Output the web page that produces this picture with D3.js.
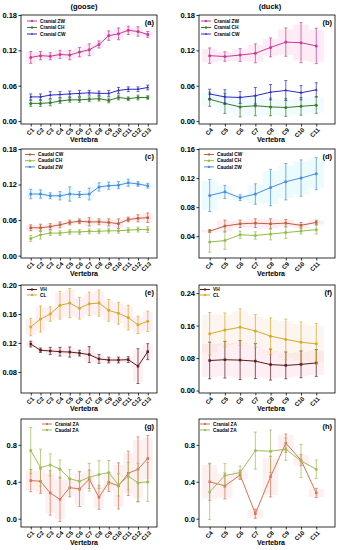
<!DOCTYPE html>
<html><head><meta charset="utf-8">
<script src="https://cdn.jsdelivr.net/npm/d3@7"></script>
<style>body{margin:0;background:#fff;} svg{display:block;font-family:"Liberation Sans",Arial,sans-serif;}</style>
</head><body><svg id="c" width="337" height="550"></svg>
<script>
// ---------- categories & ticks ----------
const gooseCats = ["C1","C2","C3","C4","C5","C6","C7","C8","C9","C10","C11","C12","C13"];
const duckCats = ["C4","C5","C6","C7","C8","C9","C10","C11"];
const ticksWidth = [0, 0.06, 0.12, 0.18];
const ticksD = [0.04, 0.08, 0.12, 0.16];
const ticksE = [0.08, 0.12, 0.16, 0.20];
const ticksF = [0, 0.08, 0.16, 0.24];
const ticksZA = [0, 0.4, 0.8];

// ---------- (a) goose cranial ----------
const aCranialZW = [0.108,0.111,0.110,0.113,0.112,0.117,0.121,0.130,0.145,0.148,0.154,0.152,0.147];
const aCranialZWErr = [0.010,0.007,0.006,0.007,0.008,0.008,0.010,0.006,0.008,0.010,0.007,0.008,0.005];
const aCranialCH = [0.030,0.030,0.031,0.034,0.036,0.036,0.037,0.038,0.035,0.040,0.038,0.040,0.040];
const aCranialCHErr = [0.005,0.005,0.005,0.004,0.004,0.004,0.004,0.004,0.004,0.004,0.003,0.004,0.003];
const aCranialCW = [0.041,0.041,0.044,0.045,0.046,0.047,0.048,0.047,0.047,0.052,0.054,0.054,0.057];
const aCranialCWErr = [0.005,0.005,0.006,0.005,0.005,0.005,0.004,0.004,0.005,0.005,0.004,0.004,0.004];

// ---------- (b) duck cranial ----------
const bCranialZW = [0.111,0.1095,0.112,0.115,0.125,0.134,0.133,0.1275];
const bCranialZWErr = [0.013,0.008,0.011,0.016,0.016,0.024,0.034,0.030];
const bCranialCH = [0.037,0.030,0.024,0.026,0.024,0.023,0.025,0.027];
const bCranialCHErr = [0.012,0.017,0.017,0.017,0.015,0.015,0.015,0.014];
const bCranialCW = [0.046,0.041,0.040,0.043,0.049,0.052,0.048,0.053];
const bCranialCWErr = [0.008,0.012,0.010,0.014,0.013,0.017,0.012,0.012];

// ---------- (c) goose caudal ----------
const cCaudalCW = [0.047,0.047,0.049,0.052,0.056,0.058,0.057,0.057,0.056,0.054,0.061,0.063,0.064];
const cCaudalCWErr = [0.005,0.006,0.005,0.005,0.004,0.004,0.007,0.005,0.006,0.008,0.004,0.006,0.008];
const cCaudalCH = [0.029,0.035,0.038,0.038,0.040,0.040,0.041,0.041,0.042,0.042,0.043,0.044,0.044];
const cCaudalCHErr = [0.005,0.007,0.004,0.004,0.004,0.004,0.004,0.004,0.004,0.004,0.004,0.004,0.005];
const cCaudalZW = [0.104,0.104,0.101,0.101,0.104,0.103,0.104,0.116,0.118,0.119,0.123,0.121,0.118];
const cCaudalZWErr = [0.008,0.007,0.005,0.007,0.012,0.005,0.010,0.007,0.006,0.006,0.006,0.004,0.004];

// ---------- (d) duck caudal ----------
const dCaudalCW = [0.047,0.054,0.057,0.058,0.057,0.058,0.055,0.059];
const dCaudalCWErr = [0.002,0.008,0.005,0.006,0.007,0.005,0.004,0.003];
const dCaudalCH = [0.032,0.034,0.042,0.041,0.043,0.045,0.047,0.049];
const dCaudalCHErr = [0.014,0.012,0.005,0.005,0.008,0.008,0.004,0.006];
const dCaudalZW = [0.096,0.101,0.093,0.098,0.107,0.115,0.120,0.126];
const dCaudalZWErr = [0.022,0.009,0.004,0.014,0.025,0.025,0.025,0.022];

// ---------- (e) goose VH / CL ----------
const eVH = [0.1185,0.110,0.109,0.108,0.1075,0.106,0.104,0.098,0.0965,0.0965,0.097,0.088,0.108];
const eVHErr = [0.004,0.003,0.005,0.006,0.007,0.004,0.011,0.006,0.004,0.004,0.004,0.024,0.011];
const eCL = [0.142,0.153,0.160,0.172,0.175,0.168,0.174,0.175,0.165,0.161,0.155,0.145,0.150];
const eCLErr = [0.012,0.018,0.010,0.019,0.020,0.015,0.016,0.018,0.015,0.015,0.017,0.012,0.014];

// ---------- (f) duck VH / CL ----------
const fVH = [0.074,0.076,0.075,0.0725,0.064,0.062,0.0645,0.068];
const fVHErr = [0.045,0.045,0.048,0.043,0.038,0.033,0.033,0.033];
const fCL = [0.140,0.149,0.156,0.147,0.134,0.126,0.119,0.115];
const fCLErr = [0.052,0.042,0.045,0.040,0.045,0.050,0.050,0.050];

// ---------- (g) goose ZA ----------
const gCranialZA = [0.413,0.405,0.279,0.21,0.337,0.322,0.427,0.232,0.395,0.355,0.492,0.536,0.652];
const gCranialZAErr = [0.12,0.13,0.24,0.24,0.10,0.19,0.10,0.13,0.10,0.25,0.24,0.35,0.25];
const gCaudalZA = [0.738,0.554,0.583,0.536,0.434,0.405,0.449,0.478,0.50,0.366,0.46,0.39,0.398];
const gCaudalZAErr = [0.25,0.20,0.12,0.10,0.10,0.10,0.15,0.15,0.13,0.12,0.15,0.21,0.21];

// ---------- (h) duck ZA ----------
const hCranialZA = [0.40,0.355,0.474,0.054,0.456,0.818,0.634,0.279];
const hCranialZAErr = [0.20,0.14,0.05,0.05,0.22,0.10,0.06,0.05];
const hCaudalZA = [0.29,0.467,0.50,0.738,0.731,0.753,0.626,0.536];
const hCaudalZAErr = [0.30,0.13,0.07,0.20,0.23,0.12,0.18,0.10];

// ---------- colours ----------
const colZW = "#c83c96", colCH = "#3c7a28", colCW = "#2a2ac8";
const colCCW = "#c0603c", colCCH = "#94bc48", colCZW = "#4c8ce0";
const colVH = "#5a1e1e", colCL = "#d8aa28";
const colCrZA = "#dc7050", colCaZA = "#a0bc5c";

const panels = [
 {label:"(a)", col:0, row:0, cats:gooseCats, yDomain:[-0.005,0.18], ticks:ticksWidth, fmt:".2f", lx:6, ly:6, lsp:6.5,
  series:[{name:"Cranial ZW", v:aCranialZW, e:aCranialZWErr, c:colZW, band:"#f6b4dc", shape:"circle"},
          {name:"Cranial CH", v:aCranialCH, e:aCranialCHErr, c:colCH, band:"#c4f2f8", shape:"circle"},
          {name:"Cranial CW", v:aCranialCW, e:aCranialCWErr, c:colCW, band:null, shape:"triangle"}]},
 {label:"(b)", col:1, row:0, cats:duckCats, yDomain:[-0.005,0.18], ticks:ticksWidth, fmt:".2f", lx:2, ly:6, lsp:6.5,
  series:[{name:"Cranial ZW", v:bCranialZW, e:bCranialZWErr, c:colZW, band:"#f6b4dc", shape:"circle"},
          {name:"Cranial CH", v:bCranialCH, e:bCranialCHErr, c:colCH, band:"#c4f2f8", shape:"circle"},
          {name:"Cranial CW", v:bCranialCW, e:bCranialCWErr, c:colCW, band:null, shape:"triangle"}]},
 {label:"(c)", col:0, row:1, cats:gooseCats, yDomain:[-0.004,0.18], ticks:ticksWidth, fmt:".2f", lx:4, ly:5.5, lsp:6.2,
  series:[{name:"Caudal CW", v:cCaudalCW, e:cCaudalCWErr, c:colCCW, band:"#f6b4c8", shape:"square"},
          {name:"Caudal CH", v:cCaudalCH, e:cCaudalCHErr, c:colCCH, band:null, shape:"circle"},
          {name:"Caudal ZW", v:cCaudalZW, e:cCaudalZWErr, c:colCZW, band:"#b4eef8", shape:"circle"}]},
 {label:"(d)", col:1, row:1, cats:duckCats, yDomain:[0.01,0.16], ticks:ticksD, fmt:".2f", lx:5, ly:5.5, lsp:6.2,
  series:[{name:"Caudal CW", v:dCaudalCW, e:dCaudalCWErr, c:colCCW, band:"#f6b4c8", shape:"square"},
          {name:"Caudal CH", v:dCaudalCH, e:dCaudalCHErr, c:colCCH, band:null, shape:"circle"},
          {name:"Caudal ZW", v:dCaudalZW, e:dCaudalZWErr, c:colCZW, band:"#b4eef8", shape:"circle"}]},
 {label:"(e)", col:0, row:2, cats:gooseCats, yDomain:[0.051,0.20], ticks:ticksE, fmt:".2f", lx:6, ly:4.5, lsp:5.5,
  series:[{name:"VH", v:eVH, e:eVHErr, c:colVH, band:"#f6c0d0", shape:"square"},
          {name:"CL", v:eCL, e:eCLErr, c:colCL, band:"#f6c0d0", shape:"circle"}]},
 {label:"(f)", col:1, row:2, cats:duckCats, yDomain:[-0.006,0.26], ticks:ticksF, fmt:".2f", lx:1, ly:4.5, lsp:5.5,
  series:[{name:"VH", v:fVH, e:fVHErr, c:colVH, band:"#f6c0d0", shape:"square"},
          {name:"CL", v:fCL, e:fCLErr, c:colCL, band:"#f6d8c0", shape:"circle"}]},
 {label:"(g)", col:0, row:3, cats:gooseCats, yDomain:[-0.09,1.08], ticks:ticksZA, fmt:".1f", lx:21, ly:5, lsp:6,
  series:[{name:"Cranial ZA", v:gCranialZA, e:gCranialZAErr, c:colCrZA, band:"#f8c4c4", shape:"square"},
          {name:"Caudal ZA", v:gCaudalZA, e:gCaudalZAErr, c:colCaZA, band:null, shape:"circle"}]},
 {label:"(h)", col:1, row:3, cats:duckCats, yDomain:[-0.09,1.08], ticks:ticksZA, fmt:".1f", lx:1, ly:5, lsp:6,
  series:[{name:"Cranial ZA", v:hCranialZA, e:hCranialZAErr, c:colCrZA, band:"#f8c4c4", shape:"square"},
          {name:"Caudal ZA", v:hCaudalZA, e:hCaudalZAErr, c:colCaZA, band:null, shape:"circle"}]}
];

const colX = [[21,157],[199,335]];
const rowY = [[15,124],[149,258],[285,393],[419,527]];

const svg = d3.select("#c");
svg.append("rect").attr("width",337).attr("height",550).attr("fill","#fff");

svg.append("text").attr("x",84).attr("y",9).attr("text-anchor","middle")
  .attr("font-size",7.5).attr("font-weight","bold").text("(goose)");
svg.append("text").attr("x",270).attr("y",9).attr("text-anchor","middle")
  .attr("font-size",7.5).attr("font-weight","bold").text("(duck)");

function marker(g, shape, x, y, c, s) {
  if (shape === "triangle") {
    g.append("path").attr("d", d3.symbol(d3.symbolTriangle, s*s*1.6)()).attr("transform",`translate(${x},${y})`).attr("fill",c);
  } else if (shape === "square") {
    g.append("rect").attr("x",x-s*0.85).attr("y",y-s*0.85).attr("width",s*1.7).attr("height",s*1.7).attr("fill",c);
  } else {
    g.append("circle").attr("cx",x).attr("cy",y).attr("r",s).attr("fill",c);
  }
}

panels.forEach(p => {
  const [x0,x1] = colX[p.col];
  const [y0,y1] = rowY[p.row];
  const n = p.cats.length;
  const xDom = n === 13 ? [-1, 12.95] : [-0.7, 8.23];
  const x = d3.scaleLinear().domain(xDom).range([x0,x1]);
  const y = d3.scaleLinear().domain(p.yDomain).range([y1,y0]);
  const step = x(1) - x(0);
  const g = svg.append("g");

  // bands
  p.series.forEach(s => {
    if (!s.band) return;
    g.append("g").selectAll("rect").data(s.v).join("rect")
      .attr("x",(d,i)=>Math.max(x0, x(i)-step/2)).attr("width",(d,i)=>Math.min(x1, x(i)+step/2)-Math.max(x0, x(i)-step/2))
      .attr("y",(d,i)=>y(d+s.e[i]*0.9)).attr("height",(d,i)=>y(d-s.e[i]*0.9)-y(d+s.e[i]*0.9))
      .attr("fill",s.band).attr("opacity",0.25);
  });

  // error bars, lines, markers
  p.series.forEach(s => {
    const eb = g.append("g").attr("stroke",s.c).attr("stroke-width",0.8).attr("opacity",0.9);
    s.v.forEach((d,i) => {
      const xi = x(i), yt = y(d+s.e[i]), yb = y(d-s.e[i]);
      eb.append("line").attr("x1",xi).attr("x2",xi).attr("y1",yt).attr("y2",yb);
      eb.append("line").attr("x1",xi-1.5).attr("x2",xi+1.5).attr("y1",yt).attr("y2",yt);
      eb.append("line").attr("x1",xi-1.5).attr("x2",xi+1.5).attr("y1",yb).attr("y2",yb);
    });
    g.append("path").datum(s.v).attr("fill","none").attr("stroke",s.c).attr("stroke-width",1)
      .attr("d", d3.line().x((d,i)=>x(i)).y(d=>y(d)));
    s.v.forEach((d,i) => marker(g, s.shape, x(i), y(d), s.c, 1.5));
  });

  // frame
  g.append("rect").attr("x",x0).attr("y",y0).attr("width",x1-x0).attr("height",y1-y0)
    .attr("fill","none").attr("stroke","#000").attr("stroke-width",0.8);

  // y axis
  const ya = d3.axisLeft(y).tickValues(p.ticks).tickSize(2.5).tickPadding(1.5).tickFormat(d3.format(p.fmt));
  const yg = g.append("g").attr("transform",`translate(${x0},0)`).call(ya);
  yg.select(".domain").remove();
  yg.selectAll("line").attr("stroke-width",0.8);
  yg.selectAll("text").attr("font-size",7.5).attr("font-weight","bold").attr("font-family","Liberation Sans, Arial, sans-serif").attr("fill","#000");

  // x axis
  const xa = d3.axisBottom(x).tickValues(d3.range(n)).tickSize(2.5).tickFormat(i=>p.cats[i]);
  const xg = g.append("g").attr("transform",`translate(0,${y1})`).call(xa);
  xg.select(".domain").remove();
  xg.selectAll("line").attr("stroke-width",0.8);
  xg.selectAll("text").attr("font-size",6).attr("font-weight","bold").attr("font-family","Liberation Sans, Arial, sans-serif").attr("fill","#000")
    .attr("text-anchor","end").attr("dy","0.3em").attr("y",0)
    .attr("transform","translate(2,5) rotate(-45)");

  g.append("text").attr("x",(x0+x1)/2 - (p.col===0?5:-4)).attr("y",y1+18).attr("text-anchor","middle")
    .attr("font-size",7).attr("font-weight","bold").text("Vertebra");

  // panel label
  g.append("text").attr("x",x1-3).attr("y",y0+9.5).attr("text-anchor","end")
    .attr("font-size",7.5).attr("font-weight","bold").text(p.label);

  // legend
  p.series.forEach((s,k) => {
    const ly = y0 + p.ly + k*p.lsp;
    const lx = x0 + p.lx;
    g.append("line").attr("x1",lx).attr("x2",lx+10).attr("y1",ly).attr("y2",ly).attr("stroke",s.c).attr("stroke-width",1);
    marker(g, s.shape, lx+5, ly, s.c, 1.2);
    g.append("text").attr("x",lx+13).attr("y",ly).attr("dy","0.35em").attr("font-size",4.8).attr("font-weight","bold").text(s.name);
  });
});
</script></body></html>
